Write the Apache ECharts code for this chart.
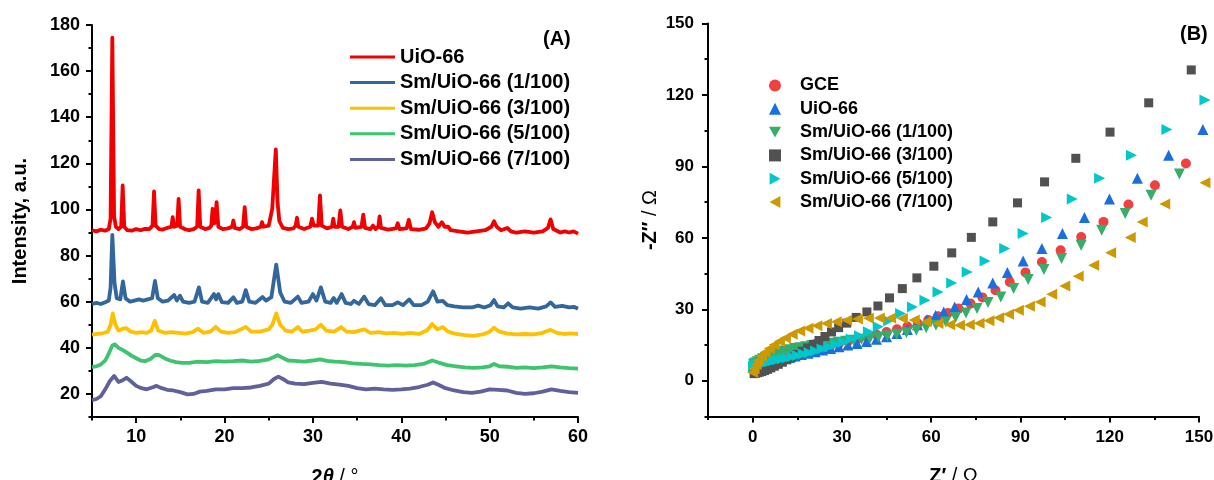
<!DOCTYPE html>
<html>
<head>
<meta charset="utf-8">
<script src="https://cdn.jsdelivr.net/npm/echarts@6/dist/echarts.min.js"></script>
<style>
  html, body { margin: 0; padding: 0; background: #fff; }
  #chart { width: 1214px; height: 480px; }
</style>
</head>
<body>
<div id="chart"></div>
<script>
// ---- (A) XRD patterns: [2θ, intensity] ----
const xrdNames = ['UiO-66', 'Sm/UiO-66 (1/100)', 'Sm/UiO-66 (3/100)', 'Sm/UiO-66 (5/100)', 'Sm/UiO-66 (7/100)'];

const xrdUiO66 = [
  [5,91],[5.5,90.5],[6,91.2],[6.5,90.8],[6.9,91.5],[7.1,96],[7.3,174.5],[7.5,97],[7.7,92.5],[8.0,91.5],[8.3,92.5],[8.47,110.4],[8.65,92.5],
  [9.0,91],[9.5,90.8],[10,91.5],[10.5,91],[11,91.6],[11.5,91.5],[11.85,93],[12.02,107.8],[12.2,93],[12.6,91.5],[13,91.3],[13.5,92],
  [14.0,92.5],[14.13,96.7],[14.3,92.5],[14.65,93],[14.8,104.6],[14.97,92.5],[15.5,91.5],[16,91],[16.5,91.5],[16.9,92.5],[17.07,108.3],
  [17.25,92.5],[17.8,91.5],[18.3,92],[18.5,93],[18.65,100.3],[18.85,94],[18.95,95],[19.1,103.2],[19.3,92.5],[19.8,91.5],[20.4,91.8],
  [20.85,92.5],[21.0,95.2],[21.15,92],[21.7,91.5],[22.1,92.5],[22.28,101],[22.45,92.5],[23,91.5],[23.6,91.8],[24.1,92.5],[24.24,94.5],
  [24.4,92.5],[25.0,93],[25.4,100.4],[25.6,101],[25.8,126],[26.0,103],[26.2,95],[26.6,92],[27.2,91.5],[27.8,91.8],[28.05,93],[28.2,96.4],
  [28.35,92.5],[29.0,91.5],[29.7,92.5],[29.9,96],[30.1,93],[30.6,93],[30.8,106.1],[31.0,93],[31.6,91.8],[32.15,92.5],[32.3,96],[32.45,92.5],
  [32.9,92.5],[33.1,99.6],[33.3,92.5],[34.0,91.5],[34.5,92.5],[34.65,94.5],[34.8,92],[35.5,92.5],[35.7,97.8],[35.9,92],[36.5,91.5],
  [36.8,93],[37.1,91.5],[37.4,92.5],[37.55,97],[37.7,92],[38.5,91.3],[39.4,91.8],[39.6,94],[39.8,91.5],[40.6,91.8],[40.85,95.5],[41.1,91.5],
  [42,91.2],[42.8,91.8],[43.2,94],[43.5,98.8],[43.8,94.5],[44.2,92.5],[44.6,94.5],[44.9,92.5],[45.3,92.5],[45.6,91],[46.5,90.5],[47.5,90],
  [48.5,90.5],[49.5,91],[50.2,92.5],[50.5,94.9],[50.8,92.5],[51.3,91],[52,92],[52.4,90.5],[53,90],[54,90.5],[55,90],[56,90.5],[56.6,92],
  [56.9,95.7],[57.2,91.5],[58,90],[58.5,90.5],[59,90],[59.5,90.5],[60,89.5]
];

const xrdSm1 = [
  [5,59],[5.5,59.5],[6,59],[6.5,59.8],[6.9,60.5],[7.1,66],[7.3,89],[7.55,68],[7.8,61.5],[8.2,61],[8.5,68.8],[8.8,61.5],[9.3,60],[9.8,60.5],
  [10.3,61],[10.8,60.5],[11.3,61],[11.8,61.5],[12.13,69],[12.45,61.5],[13,60],[13.6,60.5],[14.3,62.9],[14.6,60.5],[14.95,62.6],[15.3,60],
  [16,59.5],[16.6,60],[17.1,66.2],[17.45,60],[18.1,59.5],[18.8,63.3],[19.05,61],[19.3,63.3],[19.7,59.8],[20.4,59.5],[21.0,61.9],[21.4,59.5],
  [22.0,60],[22.4,65],[22.8,60],[23.5,59.5],[24.3,62],[24.7,60.5],[25.3,62],[25.85,76.1],[26.3,64],[26.8,60],[27.5,59.5],[28.3,62.2],
  [28.7,59.5],[29.5,60],[30.0,63.3],[30.4,60.5],[30.9,66.2],[31.4,60],[32.0,59.5],[32.35,61.6],[32.7,59.5],[33.25,63.3],[33.7,59.5],
  [34.3,59],[34.65,60.4],[35.2,59],[35.8,62.2],[36.3,59],[37.0,58.5],[37.7,61.5],[38.2,58.5],[39.0,58.5],[39.6,59.7],[40.2,58.5],[40.9,61],
  [41.4,58.5],[42.3,58.5],[43.0,60],[43.6,64.5],[44.1,60],[44.7,60.4],[45.2,58.5],[46,58],[47,57.5],[48,57.5],[48.7,58.3],[49.4,57.5],
  [50.1,58.5],[50.5,60.7],[50.9,58],[51.6,57.5],[52.1,59.3],[52.6,57.5],[53.5,57],[54.5,57.5],[55.5,57],[56.4,58],[56.9,59.7],[57.4,57.8],
  [58.2,58.2],[59,57.5],[59.5,57.8],[60,57]
];

const xrdSm3 = [
  [5,45.7],[5.6,46],[6.2,46.3],[6.8,47],[7.1,50],[7.35,54.9],[7.65,50],[8.0,47.5],[8.5,48.3],[8.9,48.5],[9.4,47],[10,46.5],[10.6,46.8],
  [11.2,46.5],[11.7,47.5],[12.1,51.7],[12.5,47.5],[13.2,46.5],[14,46.8],[14.8,46.5],[15.6,46.2],[16.4,46.8],[17,48.3],[17.6,46.5],[18.4,47],
  [19,49.1],[19.6,47],[20.4,46.5],[21.2,46.8],[22.4,49.1],[23,47],[24,47],[25,48],[25.4,50],[25.85,54.9],[26.3,50],[26.9,47.5],[27.6,47],
  [28.3,49],[28.8,47],[29.6,47.5],[30.3,48],[30.9,50],[31.5,47.5],[32.4,47],[33.2,49],[33.8,47],[34.6,46.8],[35.8,48],[36.5,46.5],
  [37.4,46.8],[38.3,46.3],[39.2,46.5],[40.1,46],[41,46.5],[42,46],[42.9,47.5],[43.5,50.3],[44.1,48],[44.7,49],[45.3,47],[46.2,46],
  [47.2,45.5],[48.2,45.2],[49.2,45.8],[50,47],[50.5,48.7],[51.1,47],[52,46.2],[53,45.8],[54,46],[55,45.8],[56,46.5],[56.9,47.8],
  [57.6,46.5],[58.4,46],[59.2,46.3],[60,46]
];

const xrdSm5 = [
  [5,31.7],[5.5,32],[6,32.8],[6.5,34.5],[6.9,37.5],[7.3,41],[7.6,41.5],[8,40],[8.5,39],[9,37.8],[9.5,36.5],[10,35.5],[10.5,34.5],[11,34.2],
  [11.6,35.2],[12.2,37],[12.6,36.8],[13.2,35.5],[13.8,34.5],[14.5,33.8],[15.2,33.5],[16,33.5],[17,34],[18,33.8],[19,34.2],[20,34],[21,34.2],
  [22,34.5],[23,34],[24,34.3],[25,35],[25.6,36],[26,36.8],[26.5,35.8],[27.2,34.5],[28,34.3],[29,34],[30,34.5],[30.8,35],[31.6,34.3],
  [32.5,34],[33.5,33.8],[34.5,33.3],[35.5,33],[36.5,32.8],[37.5,32.5],[38.5,32.3],[39.5,32.5],[40.5,32.3],[41.5,32.5],[42.5,33],[43.5,34.5],
  [44.3,33.5],[45.2,32.5],[46.2,32],[47.2,31.5],[48.2,31.3],[49.2,31.5],[50,32],[50.5,33],[51.1,32],[52,31.8],[53,31.3],[54,31.5],[55,31.2],
  [56,31.5],[57,32],[58,31.5],[59,31.2],[60,31]
];

const xrdSm7 = [
  [5,17.3],[5.5,17.8],[6,19],[6.5,22],[7,25.5],[7.5,27.8],[8,25.2],[8.4,25.8],[8.9,27],[9.4,25.5],[10,23.5],[10.6,22.5],[11.2,22],[11.8,22.8],
  [12.3,23.5],[12.9,22.5],[13.5,21.8],[14.2,21.5],[15,20.8],[15.8,19.8],[16.5,20],[17.2,21],[18,21.3],[19,22],[20,22],[21,22.5],[22,22.5],
  [23,22.8],[24,23.5],[25,24.5],[25.6,26.5],[26.1,27.5],[26.6,26.5],[27.2,25],[28,24.5],[29,24.3],[30,24.8],[31,25.2],[32,24.5],[33,24],
  [34,23.5],[35,22.5],[36,22],[37,22.3],[38,22],[39,21.8],[40,22],[41,22.3],[42,23],[43,24],[43.6,25],[44.2,24],[45,22.5],[46,21.5],
  [47,20.8],[48,20.5],[49,21],[50,22],[51,21.8],[52,21.5],[53,20.5],[54,20],[55,20.3],[56,21],[57,22],[58,21.3],[59,20.8],[60,20.5]
];

// ---- (B) Nyquist plots: [Z', -Z''] ----
const eisNames = ['GCE', 'UiO-66', 'Sm/UiO-66 (1/100)', 'Sm/UiO-66 (3/100)', 'Sm/UiO-66 (5/100)', 'Sm/UiO-66 (7/100)'];

const eisGCE = [
  [0.2,6],[0.7,6.3],[1.3,6.6],[2,6.9],[2.8,7.2],[3.8,7.6],[4.9,8],[6.1,8.4],[7.5,8.9],[9,9.4],[10.6,10],[12.4,10.6],[14.3,11.2],[16.4,11.8],
  [18.6,12.5],[21,13.2],[23.5,14],[26.2,14.8],[29,15.6],[32,16.5],[35.1,17.4],[38.3,18.4],[41.6,19.4],[45,20.5],[48.5,21.6],[52,22.8],
  [55.5,24],[59,25.5],[62.3,27.1],[65.6,28.5],[69.2,30.3],[73.2,32.4],[77.2,35],[81.6,38],[86.4,41.5],[91.7,45.5],[97.2,49.9],[103.5,54.8],
  [110.4,60.4],[117.9,66.7],[126.3,74],[135.2,82.1],[145.6,91.2]
];

const eisUiO66 = [
  [0.2,5.8],[0.7,6.1],[1.3,6.4],[2,6.7],[2.8,7],[3.8,7.3],[4.9,7.6],[6.1,8],[7.5,8.4],[9,8.8],[10.6,9.3],[12.4,9.8],[14.3,10.4],[16.4,11],
  [18.6,11.6],[21,12.2],[23.5,12.9],[26.2,13.6],[29,14.3],[32,15],[35.1,15.7],[38.3,16.5],[41.6,17.4],[45,18.5],[48.5,19.8],[52,21.5],
  [55.4,23.5],[58.6,25.6],[61.5,27.4],[64.2,28.9],[67.9,31],[71.9,34.1],[75.8,37.3],[80.7,41.1],[85.6,45.5],[90.9,50.3],[97.2,55.5],
  [104.1,61.8],[111.5,68.6],[119.9,76.3],[129.3,85],[139.8,94.7],[151.3,105.5]
];

const eisSm1 = [
  [0.3,7],[0.9,7.5],[1.6,8],[2.4,8.6],[3.3,9.2],[4.3,9.8],[5.4,10.4],[6.6,11],[7.9,11.5],[9.3,12],[10.8,12.5],[12.4,13],[14.1,13.5],
  [15.9,13.9],[17.8,14.3],[19.8,14.7],[21.9,15.1],[24.1,15.5],[26.4,15.8],[28.8,16.2],[31.3,16.6],[33.9,17],[36.6,17.4],[39.4,17.8],
  [42.3,18.3],[45.3,18.8],[48.4,19.5],[51.7,20.2],[55,21.2],[58.3,22.3],[61.6,23.3],[64.9,24.7],[68.2,26.6],[71.7,28.5],[75.4,30.3],
  [79.1,32.9],[83.4,35.2],[87.7,38.7],[92.6,42.5],[97.9,46.7],[103.8,51.3],[110.4,56.9],[117.3,63.2],[125.2,70.2],[133.9,77.9],[143.4,86.8]
];

const eisSm3 = [
  [0.5,3],[1,3.2],[1.6,3.4],[2.3,3.6],[3.1,3.9],[4,4.3],[5,4.8],[6.1,5.4],[7.3,6.1],[8.6,6.9],[10,7.8],[11.5,8.8],[13.1,9.9],[14.8,11.1],
  [16.6,12.4],[18.5,13.8],[20.4,15.3],[22.3,16.9],[24.3,18.6],[26.5,20.5],[28.9,22.3],[31.6,24.2],[34.8,26.6],[38.4,28.9],[42.1,31.4],
  [46,34.8],[50.3,38.7],[55.2,43.2],[60.9,48.1],[66.9,53.7],[73.5,60.2],[80.7,66.7],[89.0,74.7],[98.1,83.5],[108.6,93.4],[120.1,104.4],
  [133.1,116.7],[147.4,130.5]
];

const eisSm5 = [
  [0.3,6.2],[0.9,6.5],[1.6,6.8],[2.5,7.1],[3.5,7.4],[4.6,7.7],[5.8,8],[7.1,8.4],[8.5,8.8],[10,9.2],[11.6,9.6],[13.3,10.1],[15.1,10.6],
  [17,11.2],[19,11.8],[21.1,12.5],[23.3,13.3],[25.6,14.2],[28,15.2],[30.5,16.3],[33.1,17.5],[35.9,18.9],[38.9,20.6],[42.2,22.7],
  [45.7,25.2],[49.7,28.2],[53.7,31],[57.9,33.8],[62.3,37.3],[66.9,41.1],[72.1,45.7],[78.1,50.3],[84.7,55.5],[90.9,61.8],[98.8,68.6],
  [107.4,76.3],[116.6,85],[127.3,94.7],[139.2,105.5],[152,117.9]
];

const eisSm7 = [
  [0,3.5],[0.5,5],[1.2,6.8],[2,8.5],[3,10.3],[4.2,12],[5.6,13.6],[7.2,15.1],[9,16.6],[11,18],[13.3,19.5],[15.8,20.9],[18.6,22.1],
  [21.6,23.1],[24.8,24],[28.1,24.8],[31.6,25.4],[35.2,25.9],[38.9,26.3],[42.6,26.4],[46.4,26.4],[50.3,26.1],[54.3,25.5],[58.3,24.8],
  [62.3,24],[66.2,23.5],[69.5,23.3],[72.8,23.5],[76.1,24.2],[79.4,25.2],[82.7,26.5],[86,27.9],[89.3,29.6],[93,31.3],[96.6,33.1],
  [100.5,36.3],[104.9,39.8],[109.4,43.9],[114.6,48.5],[120.3,53.7],[126.9,60.2],[130.9,66.7],[138.5,74.2],[152,83.1]
];

// tick positions
const xrdXLabels = [10, 20, 30, 40, 50, 60];
const xrdXMinor = [5, 15, 25, 35, 45, 55];
const xrdYLabels = [20, 40, 60, 80, 100, 120, 140, 160, 180];
const xrdYMinor = [10, 30, 50, 70, 90, 110, 130, 150, 170];
const eisLabels = [0, 30, 60, 90, 120, 150];
const eisMinor = [-15, 15, 45, 75, 105, 135];

const FONT = '"Liberation Sans", Arial, sans-serif';
const black = '#000';

function majorAxis(o) {
  return Object.assign({
    type: 'value',
    splitLine: { show: false },
    axisLine: { show: true, onZero: false, lineStyle: { color: black, width: 2 } },
    axisTick: { show: true, inside: false, length: 6, lineStyle: { color: black, width: 2 } },
    axisLabel: { fontFamily: FONT, fontWeight: 'bold', color: black },
    nameLocation: 'middle',
    nameTextStyle: { fontFamily: FONT, fontWeight: 'bold', color: black, fontSize: 20 }
  }, o);
}
function minorAxis(o) {
  return Object.assign({
    type: 'value',
    splitLine: { show: false },
    axisLine: { show: false, onZero: false },
    axisLabel: { show: false },
    axisTick: { show: true, inside: false, length: 3.5, lineStyle: { color: black, width: 2 } }
  }, o);
}

const xrdColors = ['#F00000', '#33669A', '#FFC000', '#3EC46E', '#60609A'];
const xrdData = [xrdUiO66, xrdSm1, xrdSm3, xrdSm5, xrdSm7];

const eisColors = ['#F14040', '#1A6FDF', '#37AD6B', '#515151', '#00C8CA', '#CC9900'];
const eisData = [eisGCE, eisUiO66, eisSm1, eisSm3, eisSm5, eisSm7];
const eisSymbols = [
  'circle',
  'triangle',
  'path://M0,0L10,0L5,9Z',
  'rect',
  'path://M0,0L9,5L0,10Z',
  'path://M9,0L0,5L9,10Z'
];
const eisSizes = [10, 11, 11, 9, 11, 11];

const series = [];
xrdNames.forEach((n, i) => {
  series.push({
    name: n, type: 'line', xAxisIndex: 0, yAxisIndex: 0,
    data: xrdData[i], showSymbol: false, symbol: 'none',
    lineStyle: { color: xrdColors[i], width: 3.8, join: 'round' }, itemStyle: { color: xrdColors[i] },
    animation: false, z: 10 - i
  });
});
eisNames.forEach((n, i) => {
  series.push({
    name: n, type: 'scatter', xAxisIndex: 2, yAxisIndex: 2,
    data: eisData[i], symbol: eisSymbols[i], symbolSize: eisSizes[i],
    itemStyle: { color: eisColors[i], opacity: 1 }, clip: false, animation: false
  });
});

// the Nyquist legend shares names with the XRD lines, so give its icons explicitly
const eisLegendData = eisNames.map((n, i) => ({
  name: n, icon: eisSymbols[i], itemStyle: { color: eisColors[i], borderWidth: 0 }
}));

const option = {
  backgroundColor: '#fff',
  animation: false,
  grid: [
    { left: 92, top: 25, width: 486, height: 392, outerBoundsMode: 'none', containLabel: false },
    { left: 708, top: 23.5, width: 491, height: 393, outerBoundsMode: 'none', containLabel: false }
  ],
  xAxis: [
    majorAxis({
      gridIndex: 0, min: 5, max: 60, position: 'bottom',
      axisTick: { show: true, length: 6, customValues: xrdXLabels, lineStyle: { color: black, width: 2 } },
      axisLabel: { customValues: xrdXLabels, fontFamily: FONT, fontWeight: 'bold', color: black, fontSize: 18, margin: 11 },
      name: '{b|2}{i|θ}{n| / °}', nameGap: 50,
      nameTextStyle: {
        rich: {
          b: { fontFamily: FONT, fontWeight: 'bold', fontSize: 20, color: black },
          i: { fontFamily: FONT, fontWeight: 'bold', fontStyle: 'italic', fontSize: 20, color: black },
          n: { fontFamily: FONT, fontWeight: 'normal', fontSize: 20, color: black }
        }
      }
    }),
    minorAxis({ gridIndex: 0, min: 5, max: 60, position: 'bottom',
      axisTick: { show: true, length: 3.5, customValues: xrdXMinor, lineStyle: { color: black, width: 2 } } }),
    majorAxis({
      gridIndex: 1, min: -15, max: 150, position: 'bottom',
      axisTick: { show: true, length: 6, customValues: eisLabels, lineStyle: { color: black, width: 2 } },
      axisLabel: { customValues: eisLabels, fontFamily: FONT, fontWeight: 'bold', color: black, fontSize: 17, margin: 12 },
      name: '{b|Z′}{n| / Ω}', nameGap: 50,
      nameTextStyle: {
        rich: {
          b: { fontFamily: FONT, fontWeight: 'bold', fontSize: 20, color: black },
          n: { fontFamily: FONT, fontWeight: 'normal', fontSize: 20, color: black }
        }
      }
    }),
    minorAxis({ gridIndex: 1, min: -15, max: 150, position: 'bottom',
      axisTick: { show: true, length: 3.5, customValues: eisMinor, lineStyle: { color: black, width: 2 } } })
  ],
  yAxis: [
    majorAxis({
      gridIndex: 0, min: 10, max: 180, position: 'left',
      axisTick: { show: true, length: 6, customValues: xrdYLabels, lineStyle: { color: black, width: 2 } },
      axisLabel: { customValues: xrdYLabels, fontFamily: FONT, fontWeight: 'bold', color: black, fontSize: 18, margin: 12 },
      name: 'Intensity, a.u.', nameGap: 62
    }),
    minorAxis({ gridIndex: 0, min: 10, max: 180, position: 'left',
      axisTick: { show: true, length: 3.5, customValues: xrdYMinor, lineStyle: { color: black, width: 2 } } }),
    majorAxis({
      gridIndex: 1, min: -15, max: 150, position: 'left',
      axisTick: { show: true, length: 6, customValues: eisLabels, lineStyle: { color: black, width: 2 } },
      axisLabel: { customValues: eisLabels, fontFamily: FONT, fontWeight: 'bold', color: black, fontSize: 17, margin: 14 },
      name: '{b|-Z″}{n| / Ω}', nameGap: 48,
      nameTextStyle: {
        rich: {
          b: { fontFamily: FONT, fontWeight: 'bold', fontSize: 20, color: black },
          n: { fontFamily: FONT, fontWeight: 'normal', fontSize: 20, color: black }
        }
      }
    }),
    minorAxis({ gridIndex: 1, min: -15, max: 150, position: 'left',
      axisTick: { show: true, length: 3.5, customValues: eisMinor, lineStyle: { color: black, width: 2 } } })
  ],
  legend: [
    {
      data: xrdNames, orient: 'vertical', left: 345, top: 42,
      icon: 'rect', itemWidth: 45, itemHeight: 3, itemGap: 5.6,
      selectedMode: false,
      textStyle: { fontFamily: FONT, fontWeight: 'bold', fontSize: 20, lineHeight: 20, color: black }
    },
    {
      data: eisLegendData, orient: 'vertical', left: 764, top: 71,
      itemWidth: 12, itemHeight: 12, itemGap: 4.3,
      selectedMode: false,
      textStyle: { fontFamily: FONT, fontWeight: 'bold', fontSize: 18, lineHeight: 19, color: black, padding: [0, 0, 0, 14] }
    }
  ],
  graphic: [
    { type: 'text', left: 543, top: 29, style: { text: '(A)', font: 'bold 20px ' + FONT, fill: black } },
    { type: 'text', left: 1180, top: 24, style: { text: '(B)', font: 'bold 20px ' + FONT, fill: black } }
  ],
  series: series
};

const chart = echarts.init(document.getElementById('chart'), null, { renderer: 'canvas' });
chart.setOption(option);
</script>
</body>
</html>
